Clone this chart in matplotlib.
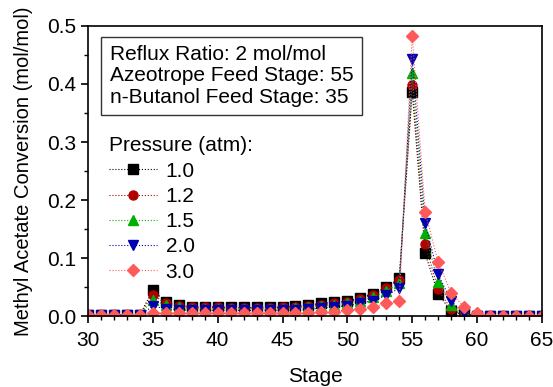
import numpy as np
import matplotlib
matplotlib.use('Agg')
import matplotlib.pyplot as plt
from matplotlib.ticker import MultipleLocator

plt.rcParams['font.family'] = ['Liberation Sans', 'DejaVu Sans']

stages = list(range(30, 66))

# conversion per stage for each pressure
p10 = [0.002]*5 + [0.045, 0.025, 0.019, 0.016, 0.016, 0.016, 0.015, 0.015, 0.015, 0.015,
                   0.016, 0.017, 0.019, 0.022, 0.024, 0.026, 0.032, 0.039, 0.050, 0.065,
                   0.386, 0.108, 0.038, 0.009, 0.002, 0.001] + [0.001]*5
p12 = [0.002]*5 + [0.037, 0.022, 0.017, 0.015, 0.015, 0.015, 0.014, 0.014, 0.014, 0.014,
                   0.015, 0.016, 0.018, 0.020, 0.022, 0.024, 0.030, 0.037, 0.048, 0.063,
                   0.398, 0.124, 0.046, 0.012, 0.002, 0.001] + [0.001]*5
p15 = [0.002]*5 + [0.028, 0.019, 0.015, 0.013, 0.013, 0.013, 0.013, 0.013, 0.013, 0.013,
                   0.013, 0.014, 0.016, 0.018, 0.020, 0.022, 0.027, 0.033, 0.043, 0.058,
                   0.419, 0.143, 0.059, 0.019, 0.003, 0.001] + [0.001]*5
p20 = [0.002]*5 + [0.017, 0.013, 0.011, 0.010, 0.010, 0.010, 0.010, 0.010, 0.010, 0.010,
                   0.010, 0.011, 0.012, 0.014, 0.016, 0.018, 0.022, 0.027, 0.036, 0.048,
                   0.443, 0.160, 0.072, 0.026, 0.005, 0.001] + [0.001]*5
p30 = [0.002]*5 + [0.006, 0.006, 0.005, 0.005, 0.005, 0.005, 0.005, 0.005, 0.005, 0.005,
                   0.005, 0.006, 0.006, 0.007, 0.008, 0.010, 0.013, 0.016, 0.022, 0.026,
                   0.483, 0.179, 0.093, 0.040, 0.016, 0.005] + [0.001]*5

series = [p10, p12, p15, p20, p30]
labels = ['1.0', '1.2', '1.5', '2.0', '3.0']
colors = ['#000000', '#b00000', '#00b000', '#0000b0', '#ff5a5a']
markers = ['s', 'o', '^', 'v', 'D']

fs = 15

fig = plt.figure(figsize=(5.53, 3.87), dpi=100)
ax = fig.add_axes([0.159, 0.183, 0.821, 0.750])

for y, lab, c, m in zip(series, labels, colors, markers):
    ax.plot(stages, y, color=c, linestyle=':', linewidth=0.8, marker=m,
            markersize=6.5 if m != 'D' else 6, markeredgecolor=c, label=lab)

ax.set_xlim(30, 65)
ax.set_ylim(0, 0.5)
ax.xaxis.set_major_locator(MultipleLocator(5))
ax.xaxis.set_minor_locator(MultipleLocator(1))
ax.yaxis.set_major_locator(MultipleLocator(0.1))
ax.yaxis.set_minor_locator(MultipleLocator(0.05))
ax.tick_params(which='major', direction='out', length=5, width=1.2, labelsize=fs)
ax.tick_params(which='minor', direction='out', length=3, width=1)
ax.tick_params(axis='x', which='major', pad=6)
ax.set_yticks(np.arange(0, 0.51, 0.1))
ax.set_yticklabels(['0.0', '0.1', '0.2', '0.3', '0.4', '0.5'])
for s in ax.spines.values():
    s.set_linewidth(1.2)

ax.set_xlabel('Stage', fontsize=fs, labelpad=12)
ax.set_ylabel('Methyl Acetate Conversion (mol/mol)', fontsize=fs - 0.5, labelpad=10)

ax.text(0.048, 0.934, 'Reflux Ratio: 2 mol/mol\nAzeotrope Feed Stage: 55\nn-Butanol Feed Stage: 35',
        transform=ax.transAxes, fontsize=fs, va='top', ha='left', linespacing=1.15,
        bbox=dict(boxstyle='square,pad=0.4', facecolor='white', edgecolor='#333333', linewidth=1))

leg = ax.legend(title='Pressure (atm):', loc='upper left', bbox_to_anchor=(0.015, 0.67),
                frameon=False, fontsize=fs, title_fontsize=fs, handlelength=2.3,
                labelspacing=0.3, borderaxespad=0.3, handletextpad=0.4)
leg._legend_box.align = 'left'

fig.savefig('out.png', dpi=100)
